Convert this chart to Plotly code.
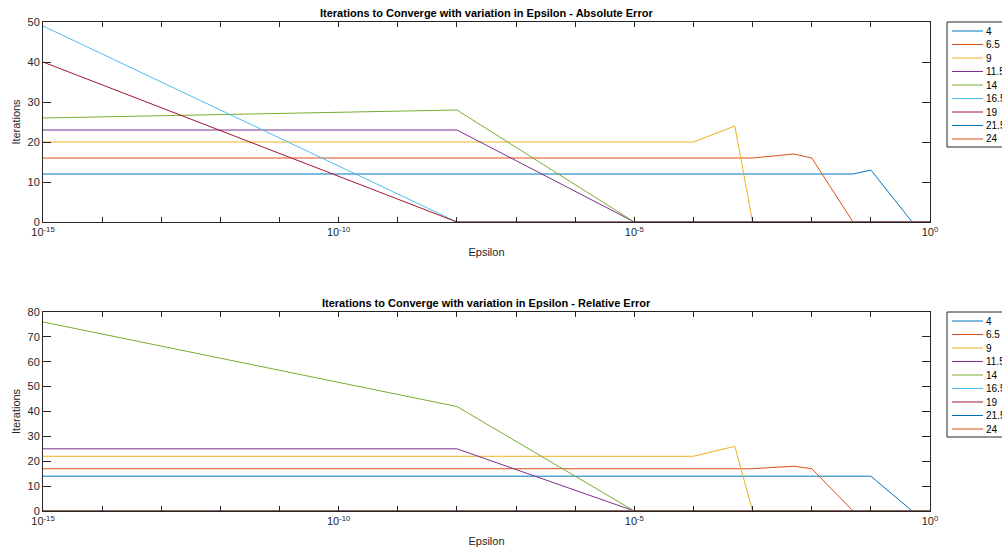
import plotly.graph_objects as go

epsilon = [1e-15, 1e-8, 1e-5, 1e-4, 5e-4, 1e-3, 5e-3, 1e-2, 5e-2, 1e-1, 5e-1, 1]
series_names = ["4", "6.5", "9", "11.5", "14", "16.5", "19", "21.5", "24"]

abs_4 = [12, 12, 12, 12, 12, 12, 12, 12, 12, 13, 0, 0]
abs_6_5 = [16, 16, 16, 16, 16, 16, 17, 16, 0, 0, 0, 0]
abs_9 = [20, 20, 20, 20, 24, 0, 0, 0, 0, 0, 0, 0]
abs_11_5 = [23, 23, 0, 0, 0, 0, 0, 0, 0, 0, 0, 0]
abs_14 = [26, 28, 0, 0, 0, 0, 0, 0, 0, 0, 0, 0]
abs_16_5 = [49, 0, 0, 0, 0, 0, 0, 0, 0, 0, 0, 0]
abs_19 = [40, 0, 0, 0, 0, 0, 0, 0, 0, 0, 0, 0]
abs_21_5 = [None] * 12
abs_24 = [None] * 12

rel_4 = [14, 14, 14, 14, 14, 14, 14, 14, 14, 14, 0, 0]
rel_6_5 = [17, 17, 17, 17, 17, 17, 18, 17, 0, 0, 0, 0]
rel_9 = [22, 22, 22, 22, 26, 0, 0, 0, 0, 0, 0, 0]
rel_11_5 = [25, 25, 0, 0, 0, 0, 0, 0, 0, 0, 0, 0]
rel_14 = [76, 42, 0, 0, 0, 0, 0, 0, 0, 0, 0, 0]
rel_16_5 = [0] * 12
rel_19 = [0] * 12
rel_21_5 = [0] * 12
rel_24 = [0] * 12

abs_series = [abs_4, abs_6_5, abs_9, abs_11_5, abs_14, abs_16_5, abs_19, abs_21_5, abs_24]
rel_series = [rel_4, rel_6_5, rel_9, rel_11_5, rel_14, rel_16_5, rel_19, rel_21_5, rel_24]

colors = ["#0072BD", "#D95319", "#EDB120", "#7E2F8E", "#77AC30",
          "#4DBEEE", "#A2142F", "#0072BD", "#D95319"]

x_major = [1e-15, 1e-10, 1e-5, 1]
x_major_text = ["10<sup>-15</sup>", "10<sup>-10</sup>", "10<sup>-5</sup>", "10<sup>0</sup>"]
x_minor = [10.0 ** e for e in range(-15, 1)]

FONT = "Liberation Sans, Arial, Helvetica, sans-serif"
AX = "#262626"

# pixel geometry helpers (plot area: x 43..930, y 22..511)
L, R, T, B = 43, 930, 22, 511
def px(xp):
    return (xp - L) / (R - L)
def py(yp):
    return (B - yp) / (B - T)

fig = go.Figure()
for name, ys, c in zip(series_names, abs_series, colors):
    fig.add_trace(go.Scatter(x=epsilon, y=ys, name=name, mode="lines",
                             line=dict(color=c, width=1), xaxis="x", yaxis="y",
                             showlegend=False))
for name, ys, c in zip(series_names, rel_series, colors):
    fig.add_trace(go.Scatter(x=epsilon, y=ys, name=name, mode="lines",
                             line=dict(color=c, width=1), xaxis="x2", yaxis="y2",
                             showlegend=False))

top_dom = [py(222), 1.0]
bot_dom = [0.0, py(312)]

xcommon = dict(type="log", range=[-15, 0], tickmode="array", tickvals=x_major, ticktext=x_major_text,
               minor=dict(tickmode="array", tickvals=x_minor, ticks="inside", ticklen=5, tickcolor=AX),
               showgrid=False, zeroline=False, showline=True, linecolor=AX, linewidth=1,
               mirror="ticks", ticks="inside", ticklen=5, tickcolor=AX,
               tickfont=dict(size=11, color=AX, family=FONT),
               title=dict(text="Epsilon", font=dict(size=11, color=AX, family=FONT), standoff=11))
ycommon = dict(showgrid=False, zeroline=False, showline=True, linecolor=AX, linewidth=1,
               mirror="ticks", ticks="inside", ticklen=8, tickcolor=AX,
               tickfont=dict(size=11, color=AX, family=FONT),
               title=dict(text="Iterations", font=dict(size=11, color=AX, family=FONT), standoff=4))

# custom legends (native legend rows are too tall)
shapes = []
annotations = []
for box_top, first_row in [(22, 31), (312, 321)]:
    box_bottom = box_top + 125
    shapes.append(dict(type="rect", xref="paper", yref="paper",
                       x0=px(947), x1=px(1010), y0=py(box_bottom), y1=py(box_top),
                       line=dict(color=AX, width=1), fillcolor="white", layer="above"))
    for i, (name, c) in enumerate(zip(series_names, colors)):
        yy = first_row + 13.5 * i
        shapes.append(dict(type="line", xref="paper", yref="paper",
                           x0=px(952), x1=px(983), y0=py(yy), y1=py(yy),
                           line=dict(color=c, width=1), layer="above"))
        annotations.append(dict(text=name, xref="paper", yref="paper", x=px(984), y=py(yy),
                                xanchor="left", yanchor="middle", showarrow=False,
                                font=dict(size=10, color="black", family=FONT)))

annotations += [
    dict(text="<b>Iterations to Converge with variation in Epsilon - Absolute Error</b>",
         x=0.5, y=1.0, xref="paper", yref="paper", xanchor="center", yanchor="bottom",
         showarrow=False, yshift=1, font=dict(size=11, color="black", family=FONT)),
    dict(text="<b>Iterations to Converge with variation in Epsilon - Relative Error</b>",
         x=0.5, y=bot_dom[1], xref="paper", yref="paper", xanchor="center", yanchor="bottom",
         showarrow=False, yshift=1, font=dict(size=11, color="black", family=FONT)),
]

fig.update_layout(
    width=1002, height=550,
    margin=dict(l=L, r=1002 - R, t=T, b=550 - B, autoexpand=False),
    paper_bgcolor="white", plot_bgcolor="white",
    font=dict(family=FONT, color=AX),
    showlegend=False,
    xaxis=dict(domain=[0, 1], anchor="y", **xcommon),
    yaxis=dict(domain=top_dom, anchor="x", range=[0, 50], dtick=10, **ycommon),
    xaxis2=dict(domain=[0, 1], anchor="y2", **xcommon),
    yaxis2=dict(domain=bot_dom, anchor="x2", range=[0, 80], dtick=10, **ycommon),
    shapes=shapes,
    annotations=annotations,
)

fig.write_html("out.html")
